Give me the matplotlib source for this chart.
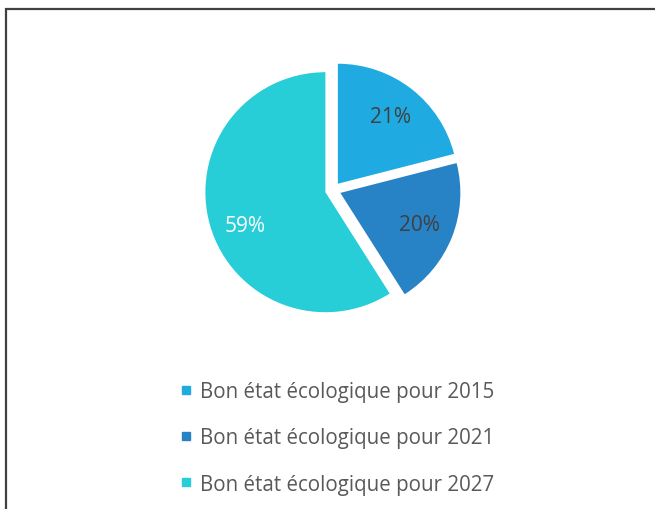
import matplotlib.pyplot as plt
from matplotlib.lines import Line2D
from matplotlib.patches import Rectangle

labels = ["Bon état écologique pour 2015",
          "Bon état écologique pour 2021",
          "Bon état écologique pour 2027"]
shares = [21, 20, 59]
colors = ["#1FABE2", "#2882C6", "#27CDD7"]
pct_colors = ["#404040", "#404040", "white"]

plt.rcParams['font.family'] = ['Open Sans', 'DejaVu Sans']

fig = plt.figure(figsize=(6.55, 5.1), dpi=100)

# outer frame, open on the right and bottom
fig.patches.append(Rectangle((6 / 655, -0.1), 1.2, (510 - 10) / 510 + 0.1,
                             transform=fig.transFigure, fill=False,
                             edgecolor="#404040", linewidth=1.6))

r = 120  # px
ax = fig.add_axes([(333 - r) / 655, (510 - 191 - r) / 510, 2 * r / 655, 2 * r / 510])
wedges, texts, autotexts = ax.pie(shares, colors=colors, startangle=90, counterclock=False,
                                  explode=[0.066] * 3, radius=1.0, autopct="%.0f%%",
                                  pctdistance=0.71, textprops=dict(fontsize=15))
for t, c in zip(autotexts, pct_colors):
    t.set_color(c)
# nudge the big slice's label a little lower
x, y = autotexts[2].get_position()
autotexts[2].set_position((x + 0.01, y - 0.08))
ax.set_xlim(-1, 1)
ax.set_ylim(-1, 1)
ax.set_aspect("equal")
ax.axis("off")

handles = [Line2D([], [], marker="s", linestyle="none", markersize=6,
                  markerfacecolor=c, markeredgecolor=c) for c in colors]
leg = fig.legend(handles, labels, loc="upper left", bbox_to_anchor=(180 / 655, 1 - 382 / 510),
                 frameon=False, fontsize=14.8, labelcolor="#595959",
                 handlelength=0.6, handletextpad=0.35, labelspacing=1.23,
                 borderaxespad=0, borderpad=0)

fig.savefig("out.png", dpi=100)
